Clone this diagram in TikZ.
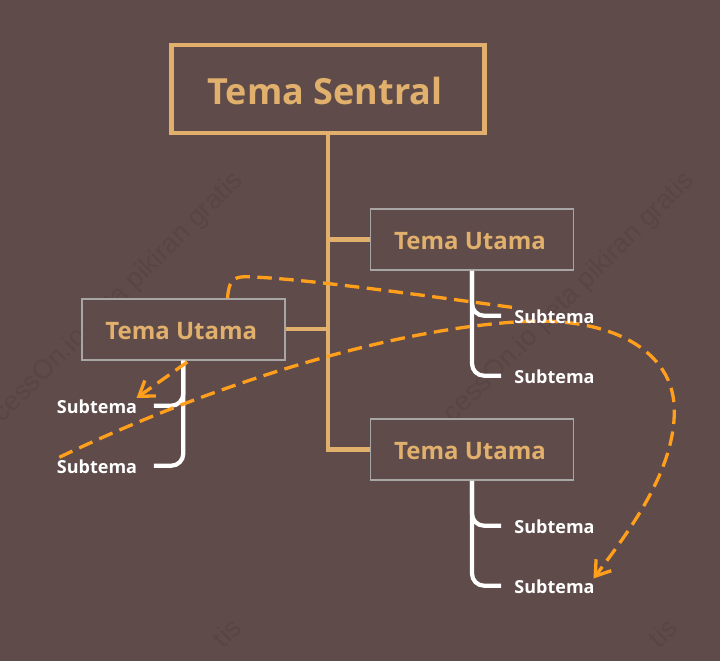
\documentclass[tikz,border=0pt]{standalone}
\usepackage{fontspec}
\setmainfont{Open Sans}
\newfontfamily\wmfont{Liberation Sans}
\usetikzlibrary{arrows.meta}
\definecolor{bgc}{HTML}{5F4B4A}
\definecolor{tanc}{HTML}{E0B06C}
\definecolor{orangec}{HTML}{FF9F1C}
\definecolor{edgec}{HTML}{A8A6A4}
\definecolor{wmc}{HTML}{584544}
\pgfdeclarelayer{front}
\pgfsetlayers{main,front}
\tikzset{
  rootbox/.style={draw=tanc,line width=4.5pt,fill=bgc,minimum width=313pt,minimum height=88pt,inner sep=0pt,
    text=tanc,font=\fontsize{36}{36}\selectfont\bfseries,text height=30pt,text depth=0pt},
  mainbox/.style={draw=edgec,line width=1.6pt,fill=bgc,minimum width=203pt,minimum height=61pt,inner sep=0pt,
    text=tanc,font=\fontsize{24}{24}\selectfont\bfseries,text height=20pt,text depth=0pt},
  subright/.style={anchor=base,text=white,font=\fontsize{18}{18}\selectfont\bfseries,inner xsep=13pt,inner ysep=0pt,text height=16pt,text depth=0pt},
  subleft/.style={subright,inner xsep=16.6pt},
  trunk/.style={draw=tanc,line width=4.2pt,miter limit=10},
  twig/.style={draw=white,line width=4.2pt,rounded corners=12pt},
  flow/.style={draw=orangec,line width=3.3pt,dash pattern=on 14.5pt off 7.5pt},
  flowtip/.style={-{Straight Barb[length=14pt,width=19pt,line width=3.3pt]}},
  mark text/.style={text=wmc,font=\wmfont\fontsize{27}{27}\selectfont,rotate=45,anchor=base east,inner sep=0pt}
}
\begin{document}
\begin{tikzpicture}[x=1pt,y=-1pt]
\useasboundingbox (0,0) rectangle (720,661);
\fill[bgc] (0,0) rectangle (720,661);
% watermark
\node[mark text] (w1) at (244,182) {cessOn.io peta pikiran gratis};
\node[mark text] (w2) at (695,182) {cessOn.io peta pikiran gratis};
\node[mark text] (w3) at (243,630) {tis};
\node[mark text] (w4) at (679,630) {tis};
% boxes
\node[rootbox] (root) at (328,89) {Tema Sentral\hspace*{6pt}};
\node[mainbox] (b1) at (472,239.5) {Tema Utama\hspace*{4pt}};
\node[mainbox] (b2) at (183.3,329.2) {Tema Utama\hspace*{4pt}};
\node[mainbox] (b3) at (472,449.5) {Tema Utama\hspace*{4pt}};
% subtopics (above the dashed connectors)
\begin{pgfonlayer}{front}
\node[subright] (s1) at (554.5,323.7) {Subtema};
\node[subright] (s2) at (554.5,383.7) {Subtema};
\node[subright] (s3) at (554.5,533.7) {Subtema};
\node[subright] (s4) at (554.5,593.7) {Subtema};
\node[subleft] (s5) at (97,413.7) {Subtema};
\node[subleft] (s6) at (97,473.7) {Subtema};
\end{pgfonlayer}
% trunk
\draw[trunk] (root.south) |- (b3.west);
\draw[trunk] (b1.west) -- (b1.west -| root.south);
\draw[trunk] (b2.east) -- (b2.east -| root.south);
% twigs
\draw[twig] (b1.south) |- (s1.west);
\draw[twig] (b1.south) |- (s2.west);
\draw[twig] (b3.south) |- (s3.west);
\draw[twig] (b3.south) |- (s4.west);
\draw[twig] (b2.south) |- (s5.east);
\draw[twig] (b2.south) |- (s6.east);
% dashed connectors
\coordinate (a1) at (227.5,298);
\coordinate (a2) at (517,308);
\coordinate (c1) at (59.3,457.3);
\coordinate (c2) at (593.5,578.5);
\coordinate (d1) at (187.3,362);
\coordinate (d2) at (136.5,398);
\draw[flow] (a1) .. controls (229,282) and (232,277) .. (245,276.7)
  .. controls (300,278) and (420,295) .. (a2);
\draw[flow,flowtip] (c1) .. controls (200,390) and (380,330) .. (520,321.7)
  .. controls (610,316) and (674,350) .. (674.3,410)
  .. controls (675,470) and (630,530) .. (c2);
\draw[flow,flowtip] (d1) -- (d2);
\end{tikzpicture}
\end{document}
